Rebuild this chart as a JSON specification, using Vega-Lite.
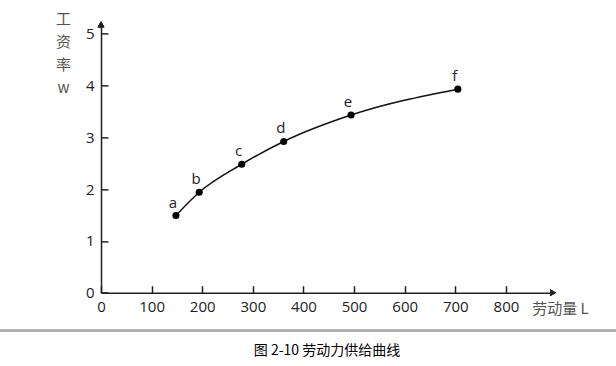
{
  "$schema": "https://vega.github.io/schema/vega-lite/v6.json",
  "autosize": {"type": "none"},
  "width": 452,
  "height": 268.3,
  "padding": {"left": 101, "top": 24.4, "right": 63, "bottom": 73.3},
  "background": "white",
  "view": {"stroke": null},
  "title": {
    "text": "图 2-10 劳动力供给曲线",
    "orient": "bottom",
    "frame": "group",
    "anchor": "middle",
    "offset": 12,
    "font": "Noto Sans CJK SC",
    "fontSize": 14,
    "fontWeight": "normal",
    "color": "#000"
  },
  "config": {
    "axis": {
      "grid": false,
      "labelFont": "Open Sans",
      "labelFontSize": 15,
      "labelColor": "#222",
      "labelFlush": false,
      "domainColor": "#222",
      "domainWidth": 1.5,
      "tickColor": "#222",
      "tickWidth": 1.5,
      "tickSize": -7,
      "titleFont": "Noto Sans CJK SC",
      "titleFontSize": 15,
      "titleFontWeight": "normal",
      "titleColor": "#555"
    }
  },
  "data": {
    "values": [
      {"label": "a", "L": 148, "w": 1.49},
      {"label": "b", "L": 194, "w": 1.94},
      {"label": "c", "L": 278, "w": 2.48},
      {"label": "d", "L": 361, "w": 2.92},
      {"label": "e", "L": 494, "w": 3.43},
      {"label": "f", "L": 705, "w": 3.93}
    ]
  },
  "layer": [
    {
      "mark": {"type": "rule", "color": "#acacb2", "strokeWidth": 2},
      "encoding": {
        "x": {"datum": -210, "type": "quantitative"},
        "x2": {"datum": 1030},
        "y": {"datum": -0.734, "type": "quantitative"}
      }
    },
    {
      "mark": {"type": "line", "interpolate": "monotone", "color": "#111", "strokeWidth": 1.5},
      "encoding": {
        "x": {
          "field": "L",
          "type": "quantitative",
          "scale": {"domain": [0, 893], "nice": false, "clamp": false},
          "axis": {
            "values": [0, 100, 200, 300, 400, 500, 600, 700, 800],
            "labelPadding": 14,
            "title": "劳动量 L",
            "titleAngle": 0,
            "titleX": 459,
            "titleY": 16,
            "titleAlign": "center",
            "titleBaseline": "middle"
          }
        },
        "y": {
          "field": "w",
          "type": "quantitative",
          "scale": {"domain": [0, 5.18], "nice": false, "clamp": false},
          "axis": {
            "values": [0, 1, 2, 3, 4, 5],
            "labelPadding": 14,
            "title": ["工", "资", "率", "w"],
            "titleAngle": 0,
            "titleAlign": "center",
            "titleBaseline": "top",
            "titleLineHeight": 23,
            "titleX": -38,
            "titleY": -13
          }
        }
      }
    },
    {
      "mark": {"type": "point", "filled": true, "color": "#000", "size": 50, "opacity": 1},
      "encoding": {
        "x": {"field": "L", "type": "quantitative"},
        "y": {"field": "w", "type": "quantitative"}
      }
    },
    {
      "mark": {"type": "text", "font": "Open Sans", "fontSize": 15, "color": "#222", "dx": -3, "dy": -13, "baseline": "middle", "align": "center"},
      "encoding": {
        "x": {"field": "L", "type": "quantitative"},
        "y": {"field": "w", "type": "quantitative"},
        "text": {"field": "label"}
      }
    },
    {
      "mark": {"type": "point", "shape": "triangle-right", "filled": true, "color": "#222", "size": 45, "opacity": 1},
      "encoding": {
        "x": {"datum": 893, "type": "quantitative"},
        "y": {"datum": 0, "type": "quantitative"}
      }
    },
    {
      "mark": {"type": "point", "shape": "triangle-up", "filled": true, "color": "#222", "size": 45, "opacity": 1},
      "encoding": {
        "x": {"datum": 0, "type": "quantitative"},
        "y": {"datum": 5.18, "type": "quantitative"}
      }
    }
  ]
}
